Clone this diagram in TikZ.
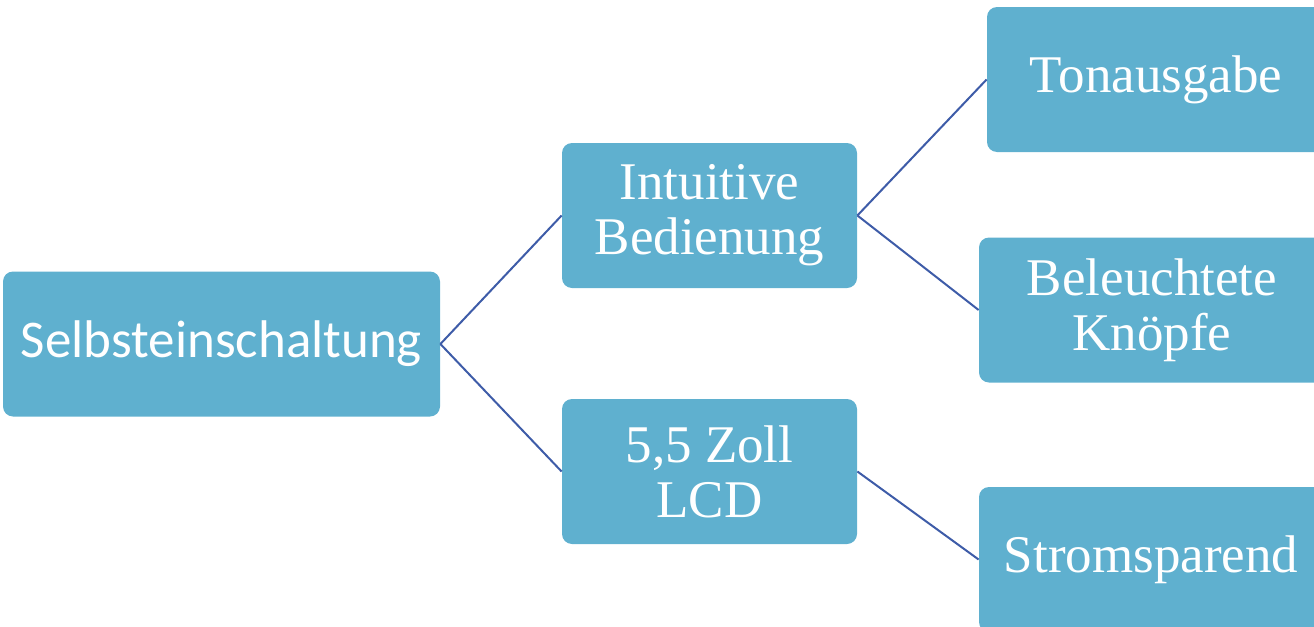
\documentclass[tikz,border=0pt]{standalone}
\usepackage{fontspec}
\setmainfont{Liberation Serif}
\newfontfamily\boxsans{Carlito}
\usetikzlibrary{
  positioning,
  calc,
}

\definecolor{boxblue}{RGB}{95,176,207}
\definecolor{linkblue}{RGB}{62,92,168}

\begin{document}
\begin{tikzpicture}[x=0.5pt,y=-0.5pt,
    box/.style={rectangle, rounded corners=5pt, fill=boxblue, text=white,
        align=center, inner sep=0pt, minimum height=72.5pt,
        font=\fontsize{26.5}{27.5}\selectfont},
    link/.style={draw=linkblue, line width=1pt},
  ]
  \useasboundingbox (0,0) rectangle (1314,627);
  \clip (0,0) rectangle (1314,627);

  % root
  \node[box, minimum width=218.5pt, font=\boxsans\fontsize{26.5}{27.5}\selectfont]
    (sel) at (221.5,344) {Selbsteinschaltung};

  % middle column
  \node[box, minimum width=147.5pt] (intu) at (709.5,215.5) {Intuitive\\Bedienung};
  \node[box, minimum width=147.5pt] (lcd) at (709.5,471.5) {5,5 Zoll\\LCD};

  % right column
  \node[box, minimum width=169pt] (ton) at (1156,79.5) {Tonausgabe};
  \node[box, minimum width=173pt] (bel) at (1152,310) {Beleuchtete\\Knöpfe};
  \node[box, minimum width=172pt] (strom) at (1151,559.5) {Stromsparend};

  \draw[link] (sel.east) -- (intu.west);
  \draw[link] (sel.east) -- (lcd.west);
  \draw[link] (intu.east) -- (ton.west);
  \draw[link] (intu.east) -- (bel.west);
  \draw[link] (lcd.east) -- (strom.west);
\end{tikzpicture}
\end{document}
